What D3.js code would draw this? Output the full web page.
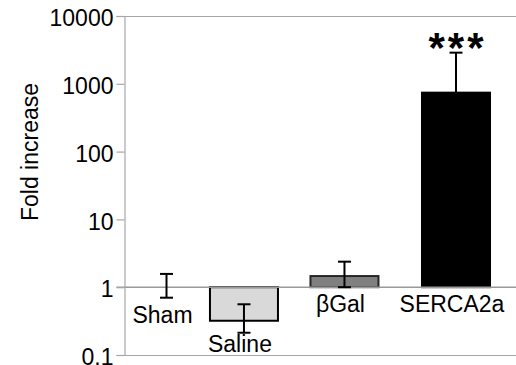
<!DOCTYPE html>
<html>
<head>
<meta charset="utf-8">
<script src="https://cdn.jsdelivr.net/npm/d3@7"></script>
<style>
  body { margin: 0; background: #fff; }
  svg text { font-family: "Liberation Sans", Arial, sans-serif; fill: #000; }
</style>
</head>
<body>
<div id="chart"></div>
<script>
// data
const categories = ['Sham', 'Saline', 'βGal', 'SERCA2a'];
const foldValues = [1, 0.32, 1.46, 740];
const errLow = [0.70, 0.213, 1.0, 190];
const errHigh = [1.57, 0.56, 2.38, 2880];
const significance = ['', '', '', '***'];
const yTicks = [0.1, 1, 10, 100, 1000, 10000];
const tickLabels = ['0.1', '1', '10', '100', '1000', '10000'];
const barFills = ['none', '#d9d9d9', '#808080', '#000000'];
const barStrokes = ['none', '#000000', '#262626', '#000000'];

const width = 516;
const height = 365;
const plotLeft = 124.5, plotRight = 516, plotTop = 16, plotBottom = 355;
const barWidth = 68;
const fontFamily = 'Liberation Sans, Arial, sans-serif';

const svg = d3.select('#chart').append('svg')
  .attr('width', width)
  .attr('height', height);

const y = d3.scaleLog()
  .domain([0.1, 10000])
  .range([plotBottom, plotTop]);

// category centres are not evenly spaced in the original figure
const xIdx = d3.scalePow()
  .exponent(1.2)
  .domain([0, categories.length - 1])
  .range([166.5, 456]);
const x = c => xIdx(categories.indexOf(c));

const rows = categories.map((c, i) => ({
  cat: c, v: foldValues[i], lo: errLow[i], hi: errHigh[i],
  fill: barFills[i], stroke: barStrokes[i], sig: significance[i]
}));

// frame lines at top and bottom of plot area
svg.selectAll('line.frame')
  .data([10000, 0.1])
  .join('line')
  .attr('class', 'frame')
  .attr('x1', plotLeft - 8).attr('x2', plotRight)
  .attr('y1', d => Math.round(y(d)) + 0.5).attr('y2', d => Math.round(y(d)) + 0.5)
  .attr('stroke', '#a6a6a6')
  .attr('stroke-width', 1.2);

// bars (grow from 1)
svg.append('g')
  .selectAll('rect')
  .data(rows)
  .join('rect')
  .attr('x', d => x(d.cat) - barWidth / 2)
  .attr('width', barWidth)
  .attr('y', d => Math.min(y(d.v), y(1)))
  .attr('height', d => Math.abs(y(d.v) - y(1)))
  .attr('fill', d => d.fill)
  .attr('stroke', d => d.stroke)
  .attr('stroke-width', 2);

// baseline at 1
svg.append('line')
  .attr('x1', plotLeft - 8).attr('x2', plotRight)
  .attr('y1', y(1)).attr('y2', y(1))
  .attr('stroke', '#999')
  .attr('stroke-width', 1.5);

// y axis
const yAxis = d3.axisLeft(y)
  .tickValues(yTicks)
  .tickFormat((d, i) => tickLabels[i])
  .tickSize(8)
  .tickSizeOuter(0);

const gy = svg.append('g')
  .attr('transform', `translate(${plotLeft},0)`)
  .call(yAxis)
  .attr('font-family', fontFamily)
  .attr('font-size', 23);
gy.select('.domain').attr('stroke', '#a6a6a6').attr('stroke-width', 1.2);
gy.selectAll('.tick line').attr('stroke', '#a6a6a6').attr('stroke-width', 1.2);
gy.selectAll('.tick text')
  .attr('dy', '0.42em');

// error bars
const eb = svg.append('g')
  .selectAll('g')
  .data(rows)
  .join('g')
  .attr('stroke', '#000')
  .attr('stroke-width', 2);
eb.append('line')
  .attr('x1', d => x(d.cat)).attr('x2', d => x(d.cat))
  .attr('y1', d => y(d.lo)).attr('y2', d => y(d.hi));
eb.append('line')
  .attr('x1', d => x(d.cat) - 6.5).attr('x2', d => x(d.cat) + 6.5)
  .attr('y1', d => y(d.hi)).attr('y2', d => y(d.hi));
eb.append('line')
  .attr('x1', d => x(d.cat) - 6.5).attr('x2', d => x(d.cat) + 6.5)
  .attr('y1', d => y(d.lo)).attr('y2', d => y(d.lo));

// category labels sit just below the lowest mark, kept inside the frame
svg.append('g')
  .attr('font-family', fontFamily)
  .selectAll('text')
  .data(rows)
  .join('text')
  .attr('x', d => x(d.cat) - 4)
  .attr('y', d => Math.min(Math.max(y(1), y(d.v), y(d.lo)) + 25, plotBottom - 3))
  .attr('text-anchor', 'middle')
  .attr('font-size', 23)
  .text(d => d.cat);

// significance stars
svg.append('g')
  .attr('font-family', fontFamily)
  .selectAll('text')
  .data(rows.filter(d => d.sig))
  .join('text')
  .attr('x', d => x(d.cat) + 1.5)
  .attr('y', d => y(d.hi) + 9.5)
  .attr('text-anchor', 'middle')
  .attr('font-size', 42)
  .attr('font-weight', 'bold')
  .attr('letter-spacing', 3)
  .text(d => d.sig);

// axis title
svg.append('text')
  .attr('transform', `translate(38,152) rotate(-90)`)
  .attr('text-anchor', 'middle')
  .attr('font-family', fontFamily)
  .attr('font-size', 23)
  .text('Fold increase');
</script>
</body>
</html>
